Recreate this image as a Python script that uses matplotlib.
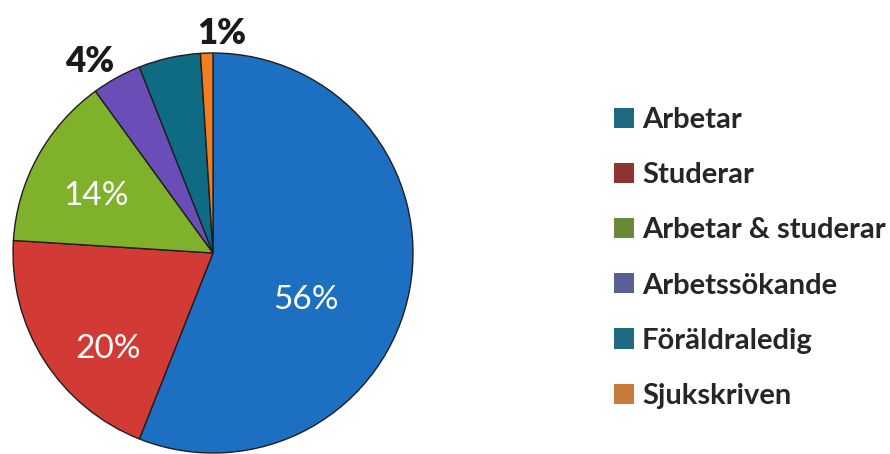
import numpy as np
import matplotlib
matplotlib.use("Agg")
import matplotlib.pyplot as plt
from matplotlib.patches import Patch

# Data
categories = ["Arbetar", "Studerar", "Arbetar & studerar", "Arbetssökande",
              "Föräldraledig", "Sjukskriven"]
shares = [56, 20, 14, 4, 5, 1]
shown = ["56%", "20%", "14%", "4%", "", "1%"]

# Colours of the slices and of the legend keys (they differ in the original)
pie_colors = ["#1c6fc1", "#d23b35", "#80b12b", "#6a4db6", "#0f6a84", "#f07f22"]
key_colors = ["#1f6a80", "#8e3431", "#6a8a3a", "#5a5f95", "#1f6a80", "#c87a3a"]

# label placement: radius (pie units), angle tweak (deg), colour, weight, size
lab_r = [0.52, 0.71, 0.65, 1.14, 0.0, 1.10]
lab_da = [-16, 10, 3, 4, 0, -4]
lab_col = ["white", "white", "white", "#1a1a1a", "white", "#1a1a1a"]
lab_w = ["normal", "normal", "normal", "heavy", "normal", "heavy"]
lab_fs = [24, 24, 24, 25, 24, 25]

plt.rcParams['font.family'] = ['Lato', 'DejaVu Sans']

fig = plt.figure(figsize=(8.9, 4.54), dpi=100)
ax = fig.add_axes([13 / 890, 1 / 454, 400 / 890, 400 / 454])

wedges, _ = ax.pie(shares, colors=pie_colors, startangle=90, counterclock=False,
                   radius=1.0,
                   wedgeprops=dict(edgecolor="#1e1e1e", linewidth=1.0))
ax.set_xlim(-1, 1)
ax.set_ylim(-1, 1)
ax.set_aspect("equal")
ax.axis("off")

for w, txt, r, da, c, fw, fs in zip(wedges, shown, lab_r, lab_da, lab_col,
                                    lab_w, lab_fs):
    if not txt:
        continue
    ang = np.deg2rad((w.theta1 + w.theta2) / 2 + da)
    ax.text(r * np.cos(ang), r * np.sin(ang), txt, ha="center", va="center",
            fontsize=fs, color=c, fontweight=fw, clip_on=False)

handles = [Patch(facecolor=k, edgecolor="none") for k in key_colors]
fig.legend(handles, categories, loc="upper left",
           bbox_to_anchor=(614 / 890, 1 - 107 / 454),
           frameon=False, prop=dict(size=21, weight="bold"),
           labelcolor="#262626",
           handlelength=0.69, handleheight=0.69, handletextpad=0.27,
           labelspacing=1.0, borderaxespad=0, borderpad=0)

fig.savefig("out.png", dpi=100)
